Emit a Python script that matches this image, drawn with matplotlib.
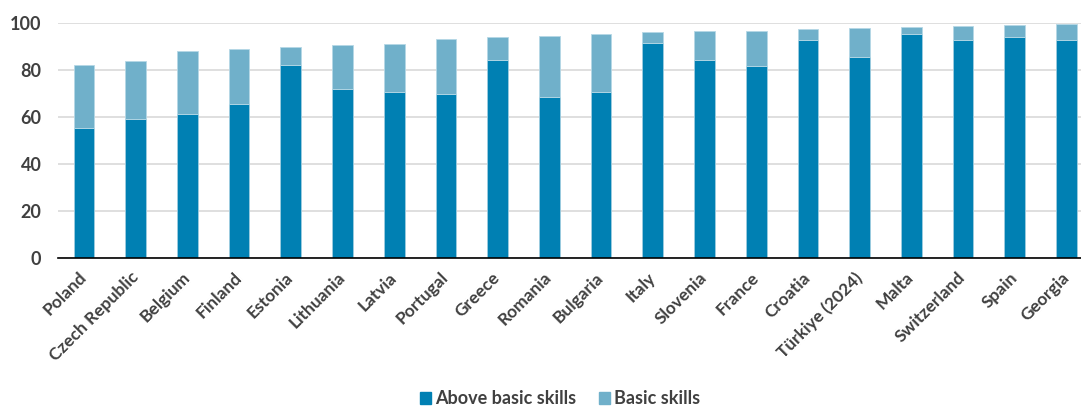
import matplotlib
matplotlib.use("Agg")
import matplotlib.pyplot as plt
from matplotlib.patches import Patch

countries = ["Poland", "Czech Republic", "Belgium", "Finland", "Estonia", "Lithuania",
             "Latvia", "Portugal", "Greece", "Romania", "Bulgaria", "Italy", "Slovenia",
             "France", "Croatia", "Türkiye (2024)", "Malta", "Switzerland", "Spain", "Georgia"]
above_basic = [55.6, 59.3, 61.4, 65.5, 82.3, 72.0, 70.8, 70.0, 84.4, 68.6, 70.8, 91.6, 84.4,
               81.8, 93.0, 85.8, 95.6, 93.0, 94.3, 93.0]
total = [82.1, 84.0, 88.2, 89.1, 89.9, 90.8, 91.2, 93.2, 94.2, 94.5, 95.3, 96.4, 96.6,
         96.7, 97.6, 98.2, 98.4, 98.7, 99.4, 99.7]
basic = [t - a for t, a in zip(total, above_basic)]
yticks = [0, 20, 40, 60, 80, 100]

dark = "#0080B3"
light = "#70B0CA"
text_col = "#404040"

plt.rcParams['font.family'] = ['Lato', 'DejaVu Sans']

fig = plt.figure(figsize=(10.81, 4.08), dpi=100)
ax = fig.add_axes([58 / 1081, (408 - 258.3) / 408, 1 - 58 / 1081, (258.3 - 23.3) / 408])

x = list(range(len(countries)))
ax.bar(x, above_basic, width=0.4, color=dark, edgecolor="#9FCDE0", linewidth=0.6, zorder=3)
ax.bar(x, basic, bottom=above_basic, width=0.4, color=light, edgecolor="#B5D8E6",
       linewidth=0.6, zorder=3)

ax.set_ylim(0, 100)
ax.set_xlim(-0.5, 19.28)
ax.set_yticks(yticks)
ax.set_yticklabels([str(v) for v in yticks], fontsize=13, color=text_col, fontweight='bold')
ax.yaxis.grid(True, color="#D9D9D9", linewidth=1.2, zorder=0)
ax.set_xticks(x)
ax.set_xticklabels(countries, rotation=45, ha='right', va='center', rotation_mode='anchor',
                   fontsize=12.5, color=text_col, fontweight='bold')
ax.tick_params(axis='both', length=0)
ax.tick_params(axis='y', pad=12)
ax.tick_params(axis='x', pad=12)
for s in ["top", "right", "left"]:
    ax.spines[s].set_visible(False)
ax.spines["bottom"].set_color("black")
ax.spines["bottom"].set_linewidth(1.2)
ax.spines["bottom"].set_zorder(4)

handles = [Patch(color=dark, label="Above basic skills"), Patch(color=light, label="Basic skills")]
fig.legend(handles=handles, loc="center", bbox_to_anchor=(560 / 1081, 1 - 399 / 408), ncol=2,
           frameon=False, handlelength=0.6, handleheight=0.6, handletextpad=0.2,
           columnspacing=1.3, prop={'size': 13, 'weight': 'bold'}, labelcolor=text_col)

fig.savefig("out.png", dpi=100)
